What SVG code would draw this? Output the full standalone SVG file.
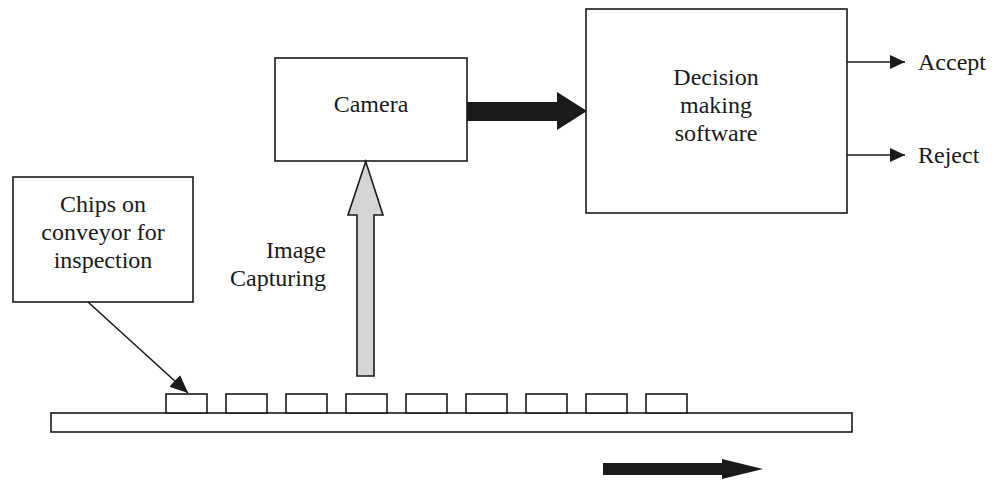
<svg xmlns="http://www.w3.org/2000/svg" width="1002" height="482" viewBox="0 0 1002 482">
<defs>
<style>
.box{fill:#fff;stroke:#1a1a1a;stroke-width:1.6}
.t{font-family:"Liberation Serif","Times New Roman",serif;font-size:24px;fill:#1a1a1a}
.m{text-anchor:middle}
.ln{stroke:#1a1a1a;stroke-width:1.6;fill:none}
.hd{fill:#1a1a1a}
</style>
<marker id="ah" markerWidth="15" markerHeight="14" refX="15" refY="7" orient="auto" markerUnits="userSpaceOnUse">
<path d="M0,0 L15,7 L0,14 Z" fill="#1a1a1a"/>
</marker>
<marker id="ah2" markerWidth="18" markerHeight="16" refX="18" refY="8" orient="auto" markerUnits="userSpaceOnUse">
<path d="M0,0 L18,8 L0,16 Z" fill="#1a1a1a"/>
</marker>
</defs>
<rect width="1002" height="482" fill="#fff"/>

<g id="camera">
<rect class="box" x="275" y="58" width="192" height="103"/>
<text class="t m" x="371" y="112">Camera</text>
</g>

<g id="decision">
<rect class="box" x="586" y="9" width="261" height="204"/>
<text class="t m" x="716" y="85">Decision</text>
<text class="t m" x="716" y="113">making</text>
<text class="t m" x="716" y="141">software</text>
</g>

<g id="chips-label">
<rect class="box" x="13" y="177" width="180" height="125"/>
<text class="t m" x="103" y="212">Chips on</text>
<text class="t m" x="103" y="240">conveyor for</text>
<text class="t m" x="103" y="268">inspection</text>
</g>

<g id="image-capturing">
<text class="t" x="326" y="258" text-anchor="end">Image</text>
<text class="t" x="326" y="286" text-anchor="end">Capturing</text>
</g>

<g id="conveyor">
<rect class="box" x="51" y="413" width="801" height="19"/>
<rect class="box" x="166" y="394" width="41" height="19"/>
<rect class="box" x="226" y="394" width="41" height="19"/>
<rect class="box" x="286" y="394" width="41" height="19"/>
<rect class="box" x="346" y="394" width="41" height="19"/>
<rect class="box" x="406" y="394" width="41" height="19"/>
<rect class="box" x="466" y="394" width="41" height="19"/>
<rect class="box" x="526" y="394" width="41" height="19"/>
<rect class="box" x="586" y="394" width="41" height="19"/>
<rect class="box" x="646" y="394" width="41" height="19"/>
</g>

<g id="accept-label">
<text class="t" x="918" y="70">Accept</text>
</g>
<g id="reject-label">
<text class="t" x="918" y="163">Reject</text>
</g>

<g id="connectors">
<polygon class="hd" points="467,102 557,102 557,92 587,111 557,130 557,121 467,121"/>
<polygon points="357,376 357,215 348,215 365.7,161.5 383,215 374,215 374,376" fill="#d4d5d7" stroke="#1a1a1a" stroke-width="1.6" stroke-linejoin="miter"/>
<line class="ln" x1="847" y1="62" x2="905" y2="62" marker-end="url(#ah)"/>
<line class="ln" x1="847" y1="155" x2="905" y2="155" marker-end="url(#ah)"/>
<line class="ln" x1="88" y1="302" x2="188" y2="393" marker-end="url(#ah2)"/>
<polygon class="hd" points="603,463 722,463 722,459 763,469 722,479 722,475 603,475"/>
</g>
</svg>
